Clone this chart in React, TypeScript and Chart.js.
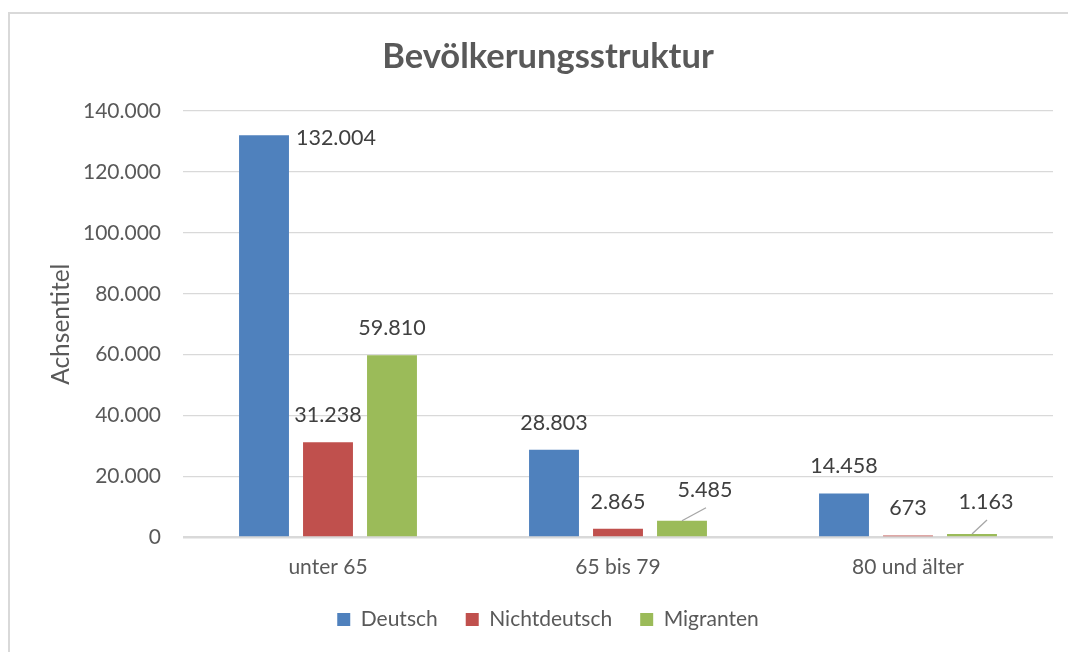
import React, { useEffect, useRef } from "react";
import { Chart, registerables } from "chart.js";

Chart.register(...registerables);

// ---- data ----
const categories = ["unter 65", "65 bis 79", "80 und älter"];
const seriesNames = ["Deutsch", "Nichtdeutsch", "Migranten"];
const deutsch = [132004, 28803, 14458];
const nichtdeutsch = [31238, 2865, 673];
const migranten = [59810, 5485, 1163];
const yMin = 0;
const yMax = 140000;
const yStep = 20000;
const chartTitle = "Bevölkerungsstruktur";
const yAxisTitle = "Achsentitel";

// ---- styles ----
const seriesColors = ["#4F81BD", "#C0504D", "#9BBB59"];
const FONT = "Lato, 'Open Sans', sans-serif";
const TEXT = "#595959";
const LABEL_TEXT = "#404040";
const GRID = "#d9d9d9";

// label placement overrides keyed "dataset-index"
const labelPlacement: Record<string, { mode: string; dx?: number; dy?: number }> = {
  "0-0": { mode: "right" },
  "2-1": { mode: "leader", dx: 24, dy: -13 },
  "2-2": { mode: "leader", dx: 15, dy: -14 },
};

const fmt = (n: number) =>
  String(Math.round(n)).replace(/\B(?=(\d{3})+(?!\d))/g, ".");

const dataLabelPlugin = {
  id: "dataLabels",
  afterDatasetsDraw(chart: any) {
    const ctx = chart.ctx;
    ctx.save();
    ctx.font = `21.5px ${FONT}`;
    ctx.fillStyle = LABEL_TEXT;
    chart.data.datasets.forEach((ds: any, di: number) => {
      const meta = chart.getDatasetMeta(di);
      meta.data.forEach((el: any, i: number) => {
        const v = ds.data[i];
        const text = fmt(v);
        const p = labelPlacement[`${di}-${i}`];
        const { x, y, width } = el.getProps(["x", "y", "width"], true);
        if (p && p.mode === "right") {
          ctx.textAlign = "left";
          ctx.textBaseline = "middle";
          ctx.fillText(text, x + width / 2 + 7, y + 3);
        } else if (p && p.mode === "leader") {
          const ex = x + (p.dx || 0);
          const ey = y + (p.dy || 0);
          ctx.strokeStyle = "#a6a6a6";
          ctx.lineWidth = 1.3;
          ctx.beginPath();
          ctx.moveTo(x, y);
          ctx.lineTo(ex, ey);
          ctx.stroke();
          ctx.textAlign = "center";
          ctx.textBaseline = "middle";
          ctx.fillText(text, ex - 1, ey - 18);
        } else {
          ctx.textAlign = "center";
          ctx.textBaseline = "middle";
          ctx.fillText(text, x, y - 27);
        }
      });
    });
    ctx.restore();
  },
};

export default function App() {
  const canvasRef = useRef<HTMLCanvasElement | null>(null);

  useEffect(() => {
    if (!canvasRef.current) return;
    const seriesData = [deutsch, nichtdeutsch, migranten];
    const chart = new Chart(canvasRef.current, {
      type: "bar",
      data: {
        labels: categories,
        datasets: seriesNames.map((name, k) => ({
          label: name,
          data: seriesData[k],
          backgroundColor: seriesColors[k],
          borderWidth: 0,
          barPercentage: 0.78,
          categoryPercentage: 0.662,
        })),
      },
      options: {
        animation: false,
        responsive: false,
        maintainAspectRatio: false,
        layout: { padding: { left: 43, right: 15, top: 0, bottom: 12 } },
        plugins: {
          title: {
            display: true,
            text: chartTitle,
            color: TEXT,
            font: { family: FONT, size: 34.5, weight: "bold", lineHeight: 1.2 },
            padding: { top: 36.5, bottom: 33.1 },
          },
          legend: {
            position: "bottom",
            labels: {
              color: TEXT,
              font: { family: FONT, size: 21 },
              boxWidth: 13,
              boxHeight: 13,
              padding: 28,
            },
          },
          tooltip: { enabled: false },
        },
        scales: {
          x: {
            grid: { display: false, drawTicks: false },
            border: { display: false },
            ticks: { color: TEXT, font: { family: FONT, size: 21 }, padding: 17 },
            afterFit: (s: any) => {
              s.height = 43.5;
            },
          },
          y: {
            min: yMin,
            max: yMax,
            ticks: {
              stepSize: yStep,
              color: TEXT,
              font: { family: FONT, size: 21 },
              padding: 22,
              callback: (v: any) => fmt(Number(v)),
            },
            grid: {
              color: GRID,
              drawTicks: false,
              lineWidth: (c: any) => (c.tick && c.tick.value === 0 ? 2.5 : 1.3),
            },
            border: { display: false },
            title: {
              display: true,
              text: yAxisTitle,
              color: TEXT,
              font: { family: FONT, size: 24.5 },
              padding: { top: 3, bottom: 0 },
            },
            afterFit: (s: any) => {
              s.width = 140;
            },
          },
        },
      },
      plugins: [dataLabelPlugin],
    });
    return () => chart.destroy();
  }, []);

  return (
    <div
      style={{
        position: "fixed",
        left: 0,
        top: 0,
        width: 1068,
        height: 652,
        overflow: "hidden",
        background: "#ffffff",
      }}
    >
      <canvas ref={canvasRef} width={1068} height={652} style={{ display: "block" }} />
      <div
        style={{
          position: "absolute",
          left: 8,
          top: 12,
          width: 1100,
          height: 700,
          border: "2px solid #d9d9d9",
          pointerEvents: "none",
        }}
      />
    </div>
  );
}
